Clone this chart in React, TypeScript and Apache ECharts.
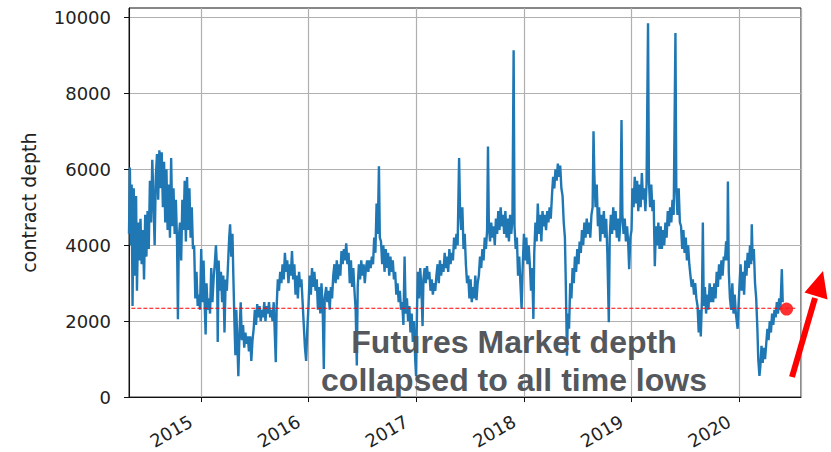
import React, { useEffect, useRef } from "react";
import * as echarts from "echarts";

// contract depth readings, [month-day, value], grouped by year
const d2014: [string, number][] = [
  ["05-02", 4300], ["05-05", 6050], ["05-08", 4000], ["05-11", 5600], ["05-14", 2400], ["05-18", 5500],
  ["05-22", 3200], ["05-26", 5300], ["05-29", 2800], ["06-02", 4600], ["06-06", 3600], ["06-10", 4700],
  ["06-14", 3500], ["06-18", 4400], ["06-22", 3100], ["06-26", 4800], ["06-30", 3700], ["07-04", 4900],
  ["07-08", 3900], ["07-12", 5700], ["07-16", 4600], ["07-20", 6250], ["07-24", 5200], ["07-28", 4000],
  ["08-01", 5800], ["08-05", 6400], ["08-09", 5200], ["08-13", 6500], ["08-17", 5500], ["08-21", 6450],
  ["08-25", 5000], ["08-29", 6200], ["09-02", 4600], ["09-06", 6000], ["09-10", 4400], ["09-14", 5600],
  ["09-18", 4200], ["09-22", 6300], ["09-26", 4500], ["09-30", 5500], ["10-04", 4300], ["10-08", 5200],
  ["10-12", 4100], ["10-15", 2050], ["10-18", 4200], ["10-22", 4600], ["10-26", 3600], ["10-30", 5200],
  ["11-03", 4400], ["11-07", 5700], ["11-11", 4100], ["11-15", 5800], ["11-19", 4400], ["11-23", 5500],
  ["11-27", 4200], ["12-01", 5000], ["12-05", 3900], ["12-09", 4000], ["12-13", 2600], ["12-17", 3300],
  ["12-21", 2400], ["12-25", 2700], ["12-29", 2300],
];
const d2015: [string, number][] = [
  ["01-02", 3900], ["01-06", 2500], ["01-10", 3600], ["01-14", 2400], ["01-17", 1650], ["01-20", 3000],
  ["01-24", 2300], ["01-28", 2600], ["02-01", 2200], ["02-05", 3400], ["02-09", 2500], ["02-13", 3100],
  ["02-17", 3500], ["02-21", 4000], ["02-25", 3300], ["02-27", 1450], ["03-02", 3600], ["03-06", 2800],
  ["03-10", 3300], ["03-14", 2500], ["03-18", 3200], ["03-22", 1700], ["03-26", 3100], ["03-30", 2800],
  ["04-03", 3500], ["04-07", 4200], ["04-10", 4550], ["04-14", 3700], ["04-18", 4300], ["04-21", 3200],
  ["04-25", 1900], ["04-28", 1100], ["05-01", 2300], ["05-04", 1600], ["05-08", 550], ["05-12", 1700],
  ["05-16", 2500], ["05-20", 1500], ["05-24", 1900], ["05-28", 1300], ["06-01", 1700], ["06-05", 1400],
  ["06-09", 1600], ["06-13", 1200], ["06-17", 1600], ["06-21", 950], ["06-25", 1500], ["06-29", 1800],
  ["07-03", 2300], ["07-07", 1900], ["07-11", 2450], ["07-15", 2100], ["07-19", 2400], ["07-23", 2000],
  ["07-27", 2300], ["07-31", 2100], ["08-04", 2500], ["08-08", 2000], ["08-12", 2400], ["08-16", 2200],
  ["08-20", 2500], ["08-24", 2100], ["08-28", 2300], ["09-01", 2000], ["09-05", 2500], ["09-09", 1600],
  ["09-12", 920], ["09-15", 2400], ["09-19", 3100], ["09-23", 2800], ["09-27", 3300], ["10-01", 3000],
  ["10-05", 3500], ["10-09", 3100], ["10-13", 3800], ["10-17", 3300], ["10-21", 3600], ["10-25", 3000],
  ["10-29", 3500], ["11-02", 3200], ["11-06", 3850], ["11-10", 3100], ["11-14", 3500], ["11-18", 2700],
  ["11-22", 3200], ["11-26", 2600], ["11-30", 3300], ["12-04", 2900], ["12-08", 3100], ["12-12", 2500],
  ["12-16", 1900], ["12-20", 1300], ["12-24", 950], ["12-28", 1800],
];
const d2016: [string, number][] = [
  ["01-01", 2400], ["01-05", 3200], ["01-09", 2700], ["01-13", 3400], ["01-17", 2900], ["01-21", 3300],
  ["01-25", 2800], ["01-29", 3100], ["02-02", 2300], ["02-06", 2900], ["02-10", 2200], ["02-14", 3000],
  ["02-18", 2400], ["02-22", 740], ["02-25", 2600], ["03-01", 2900], ["03-05", 2500], ["03-09", 2800],
  ["03-13", 2300], ["03-17", 2900], ["03-21", 2600], ["03-25", 3200], ["03-29", 3500], ["04-02", 3000],
  ["04-06", 3600], ["04-10", 3100], ["04-14", 3500], ["04-18", 3200], ["04-22", 3850], ["04-26", 3500],
  ["04-30", 3900], ["05-04", 3600], ["05-08", 4050], ["05-12", 3500], ["05-16", 3800], ["05-20", 3000],
  ["05-24", 3600], ["05-28", 2900], ["06-01", 3400], ["06-05", 2800], ["06-09", 2300], ["06-13", 830],
  ["06-16", 2900], ["06-20", 3500], ["06-24", 3100], ["06-28", 3600], ["07-02", 3200], ["07-06", 3500],
  ["07-10", 3000], ["07-14", 3400], ["07-18", 3600], ["07-22", 3300], ["07-26", 3600], ["07-30", 3400],
  ["08-03", 3700], ["08-07", 3500], ["08-11", 4200], ["08-15", 3800], ["08-19", 5100], ["08-23", 4300],
  ["08-27", 6080], ["08-30", 4200], ["09-03", 4100], ["09-07", 3500], ["09-11", 4000], ["09-15", 3300],
  ["09-19", 3900], ["09-23", 3400], ["09-27", 3800], ["10-01", 3200], ["10-05", 3700], ["10-09", 3300],
  ["10-13", 3600], ["10-17", 3100], ["10-21", 3300], ["10-25", 2700], ["10-29", 3000], ["11-02", 2500],
  ["11-06", 2800], ["11-10", 2300], ["11-14", 2500], ["11-18", 1900], ["11-22", 3700], ["11-26", 2200],
  ["11-30", 2600], ["12-04", 2000], ["12-08", 2400], ["12-12", 1700], ["12-16", 2200], ["12-20", 1450],
  ["12-24", 2000], ["12-28", 1000], ["12-31", 550],
];
const d2017: [string, number][] = [
  ["01-03", 2200], ["01-06", 3300], ["01-10", 2600], ["01-14", 3400], ["01-18", 2900], ["01-22", 1870],
  ["01-25", 3100], ["01-29", 3400], ["02-02", 3000], ["02-06", 3450], ["02-10", 3100], ["02-14", 3300],
  ["02-18", 2800], ["02-22", 3100], ["02-26", 2700], ["03-02", 3000], ["03-06", 2800], ["03-10", 3200],
  ["03-14", 3500], ["03-18", 3000], ["03-22", 3600], ["03-26", 3200], ["03-30", 3500], ["04-03", 3300],
  ["04-07", 3800], ["04-11", 3400], ["04-15", 3700], ["04-19", 3300], ["04-23", 3900], ["04-27", 3500],
  ["05-01", 3800], ["05-05", 3600], ["05-09", 4200], ["05-13", 3900], ["05-17", 4300], ["05-21", 4000],
  ["05-26", 6300], ["05-29", 5000], ["06-02", 4400], ["06-06", 5000], ["06-10", 3900], ["06-14", 4300],
  ["06-18", 3500], ["06-22", 3000], ["06-26", 3200], ["06-30", 2600], ["07-04", 3100], ["07-08", 2500],
  ["07-12", 2900], ["07-16", 2600], ["07-20", 3200], ["07-24", 2550], ["07-28", 3000], ["08-01", 3200],
  ["08-05", 3700], ["08-09", 3400], ["08-13", 3900], ["08-17", 3600], ["08-21", 4200], ["08-25", 3900],
  ["08-29", 4400], ["09-01", 6600], ["09-04", 4500], ["09-08", 4100], ["09-12", 4600], ["09-16", 4200],
  ["09-20", 4500], ["09-24", 4000], ["09-28", 4700], ["10-02", 4300], ["10-06", 4900], ["10-10", 4400],
  ["10-14", 5000], ["10-18", 4500], ["10-22", 4800], ["10-26", 4300], ["10-30", 4900], ["11-03", 4200],
  ["11-07", 4700], ["11-11", 4100], ["11-15", 4800], ["11-19", 4300], ["11-23", 4700], ["11-27", 9140],
  ["11-30", 4500], ["12-04", 3900], ["12-08", 4200], ["12-12", 3200], ["12-16", 3700], ["12-20", 3000],
  ["12-24", 2320], ["12-28", 3500],
];
const d2018: [string, number][] = [
  ["01-01", 4300], ["01-05", 3600], ["01-09", 4200], ["01-13", 3500], ["01-17", 4000], ["01-21", 3500],
  ["01-25", 2800], ["01-29", 3400], ["02-02", 2060], ["02-05", 3800], ["02-09", 4600], ["02-13", 4100],
  ["02-17", 5100], ["02-21", 4300], ["02-25", 4800], ["03-01", 4100], ["03-05", 4900], ["03-09", 4500],
  ["03-13", 4800], ["03-17", 4400], ["03-21", 4900], ["03-25", 4600], ["03-29", 5000], ["04-02", 4700],
  ["04-06", 5300], ["04-10", 5800], ["04-14", 5500], ["04-18", 6000], ["04-22", 5700], ["04-26", 6150],
  ["04-30", 5800], ["05-04", 6100], ["05-08", 5500], ["05-12", 5300], ["05-16", 4600], ["05-20", 4200],
  ["05-23", 3000], ["05-27", 1090], ["05-30", 2200], ["06-03", 1800], ["06-07", 3000], ["06-11", 2600],
  ["06-15", 3400], ["06-19", 3000], ["06-23", 3700], ["06-27", 3300], ["07-01", 3900], ["07-05", 3500],
  ["07-09", 4100], ["07-13", 3800], ["07-17", 4400], ["07-21", 4000], ["07-25", 4600], ["07-29", 4200],
  ["08-02", 4700], ["08-06", 4300], ["08-10", 4600], ["08-14", 4200], ["08-18", 4800], ["08-22", 5000],
  ["08-25", 7000], ["08-28", 5800], ["09-01", 5000], ["09-05", 5600], ["09-09", 4500], ["09-13", 5000],
  ["09-17", 4100], ["09-21", 4800], ["09-25", 4300], ["09-29", 4900], ["10-03", 4200], ["10-07", 4700],
  ["10-11", 3800], ["10-16", 1970], ["10-19", 4200], ["10-23", 4800], ["10-27", 4300], ["10-31", 5000],
  ["11-04", 4400], ["11-08", 4900], ["11-12", 4200], ["11-16", 4700], ["11-20", 4100], ["11-24", 4600],
  ["11-28", 7300], ["12-01", 4800], ["12-05", 4300], ["12-09", 4700], ["12-13", 4100], ["12-17", 4500],
  ["12-21", 4000], ["12-24", 3370], ["12-28", 4200],
];
const d2019: [string, number][] = [
  ["01-01", 4400], ["01-04", 5500], ["01-08", 5000], ["01-12", 5800], ["01-16", 5100], ["01-20", 5700],
  ["01-24", 4900], ["01-28", 5600], ["02-01", 5000], ["02-05", 5900], ["02-09", 5200], ["02-13", 5500],
  ["02-17", 4900], ["02-21", 5600], ["02-26", 9850], ["03-01", 5700], ["03-05", 5000], ["03-09", 5600],
  ["03-13", 4900], ["03-17", 5200], ["03-21", 3450], ["03-25", 4500], ["03-29", 4000], ["04-02", 4600],
  ["04-06", 3900], ["04-10", 4500], ["04-14", 3900], ["04-18", 4400], ["04-22", 4000], ["04-26", 4600],
  ["04-30", 4200], ["05-04", 4900], ["05-08", 4500], ["05-12", 5000], ["05-16", 4600], ["05-20", 5200],
  ["05-24", 4800], ["05-30", 9590], ["06-02", 5400], ["06-06", 4800], ["06-10", 5500], ["06-14", 4600],
  ["06-18", 4500], ["06-22", 3900], ["06-26", 4400], ["06-30", 3800], ["07-04", 4200], ["07-08", 3600],
  ["07-12", 4000], ["07-16", 3500], ["07-20", 3200], ["07-24", 2900], ["07-28", 3100], ["08-01", 2700],
  ["08-05", 3000], ["08-09", 2600], ["08-13", 2400], ["08-17", 1700], ["08-21", 2300], ["08-24", 1600],
  ["08-28", 2600], ["08-31", 4600], ["09-03", 2400], ["09-07", 2900], ["09-11", 2200], ["09-15", 2700],
  ["09-19", 2300], ["09-23", 3000], ["09-27", 2500], ["10-01", 2900], ["10-05", 2500], ["10-09", 3000],
  ["10-13", 2600], ["10-17", 3300], ["10-21", 2900], ["10-25", 3500], ["10-29", 3100], ["11-02", 3600],
  ["11-06", 3200], ["11-10", 3700], ["11-14", 3600], ["11-18", 4100], ["11-22", 3600], ["11-24", 5680],
  ["11-27", 3300], ["12-01", 2600], ["12-05", 2300], ["12-09", 3000], ["12-13", 2200], ["12-17", 2700],
  ["12-21", 2200], ["12-27", 1800], ["12-30", 2400],
];
const d2020: [string, number][] = [
  ["01-02", 2900], ["01-06", 3500], ["01-10", 2800], ["01-14", 3300], ["01-18", 2700], ["01-22", 3600],
  ["01-26", 3200], ["01-30", 3800], ["02-03", 3400], ["02-07", 4000], ["02-11", 3500], ["02-13", 4550],
  ["02-16", 3600], ["02-20", 3900], ["02-24", 3000], ["02-28", 2600], ["03-03", 1800], ["03-06", 1000],
  ["03-10", 560], ["03-13", 800], ["03-17", 1350], ["03-21", 900], ["03-25", 1300], ["03-29", 1000],
  ["04-02", 1400], ["04-06", 1800], ["04-10", 1500], ["04-14", 2000], ["04-18", 1700], ["04-22", 2200],
  ["04-26", 1900], ["04-30", 2300], ["05-04", 2100], ["05-08", 2500], ["05-12", 2200], ["05-16", 2600],
  ["05-20", 2300], ["05-25", 3370], ["05-28", 2500],
];

const yearBlocks: [number, [string, number][]][] = [
  [2014, d2014], [2015, d2015], [2016, d2016], [2017, d2017], [2018, d2018], [2019, d2019], [2020, d2020],
];

const lowLevel = 2340; // dashed reference level
const latestPoint: [string, number] = ["2020-06-10", 2320];
const yTicks = [0, 2000, 4000, 6000, 8000, 10000];
const xStart = "2014-05-02";
const xEnd = "2020-07-29";
const lowLineStart = "2014-05-10";
const lowLineEnd = "2020-07-16";
const annotation = ["Futures Market depth", "collapsed to all time lows"];
const yName = "contract depth";

export default function App() {
  const ref = useRef<HTMLDivElement>(null);
  useEffect(() => {
    if (!ref.current) return;
    const chart = echarts.init(ref.current, null, { renderer: "svg" });
    const series: [string, number][] = [];
    yearBlocks.forEach(([y, rows]) => rows.forEach(([md, v]) => series.push([`${y}-${md}`, v])));
    const day = 24 * 3600 * 1000;
    const font = "DejaVu Sans";
    const arrowColor = "#ff0000";
    const annFont = "bold 32px 'Liberation Sans', Arial, sans-serif";
    chart.setOption({
      animation: false,
      grid: {
        left: 129, right: 30, top: 8, bottom: 53,
        show: true, borderColor: "#111", borderWidth: 1, backgroundColor: "transparent",
      },
      xAxis: {
        type: "time",
        min: xStart,
        max: xEnd,
        minInterval: 365 * day,
        maxInterval: 366 * day,
        splitNumber: 6,
        axisLine: { show: true, onZero: false, lineStyle: { color: "#111", width: 1 } },
        axisTick: { show: true, length: 5, lineStyle: { color: "#111" } },
        splitLine: { show: true, lineStyle: { color: "#b0b0b0", width: 1.2 } },
        axisLabel: {
          rotate: 30,
          margin: 17,
          color: "#222",
          fontFamily: font,
          fontSize: 18,
          showMinLabel: false,
          showMaxLabel: false,
          formatter: (v: number) => String(new Date(v).getFullYear()) + "  ",
        },
      },
      yAxis: {
        type: "value",
        min: 0,
        max: 10250,
        interval: 2000,
        name: yName,
        nameLocation: "middle",
        nameGap: 91,
        nameTextStyle: { fontFamily: font, fontSize: 19, color: "#222" },
        axisLine: { show: true, lineStyle: { color: "#111", width: 1 } },
        axisTick: { show: true, length: 5, lineStyle: { color: "#111" }, customValues: yTicks },
        splitLine: { show: true, lineStyle: { color: "#b0b0b0", width: 1.2 } },
        axisLabel: {
          margin: 18, color: "#222", fontFamily: font, fontSize: 18,
          customValues: yTicks,
          formatter: (v: number) => String(v),
        },
      },
      series: [
        {
          type: "line",
          data: series,
          symbol: "none",
          showSymbol: false,
          lineStyle: { color: "#1f77b4", width: 2.4 },
          itemStyle: { color: "#1f77b4" },
          z: 2,
        },
        {
          type: "line",
          data: [[lowLineStart, lowLevel], [lowLineEnd, lowLevel]],
          symbol: "none",
          showSymbol: false,
          silent: true,
          lineStyle: { color: "#ff0000", type: [4, 2], width: 1 },
          itemStyle: { color: "#ff0000" },
          z: 3,
        },
        {
          type: "scatter",
          data: [latestPoint],
          symbolSize: 13,
          itemStyle: { color: "#ff1a1a", opacity: 0.9 },
          z: 5,
        },
      ],
      graphic: [
        {
          type: "text", x: 514, y: 342, silent: true, z: 10,
          style: {
            text: annotation[0], fill: "#54585d", font: annFont,
            textAlign: "center", textVerticalAlign: "middle",
          },
        },
        {
          type: "text", x: 514, y: 380, silent: true, z: 10,
          style: {
            text: annotation[1], fill: "#54585d", font: annFont,
            textAlign: "center", textVerticalAlign: "middle",
          },
        },
        {
          type: "line", silent: true, z: 10,
          shape: { x1: 792, y1: 377, x2: 815, y2: 298 },
          style: { stroke: arrowColor, lineWidth: 6 },
        },
        {
          type: "polygon", silent: true, z: 10,
          shape: { points: [[823, 271], [804.5, 292.5], [827.5, 299.5]] },
          style: { fill: arrowColor },
        },
      ],
    });
    return () => chart.dispose();
  }, []);
  return (
    <div
      ref={ref}
      style={{ position: "fixed", left: 0, top: 0, width: 831, height: 452, background: "#fff" }}
    />
  );
}
